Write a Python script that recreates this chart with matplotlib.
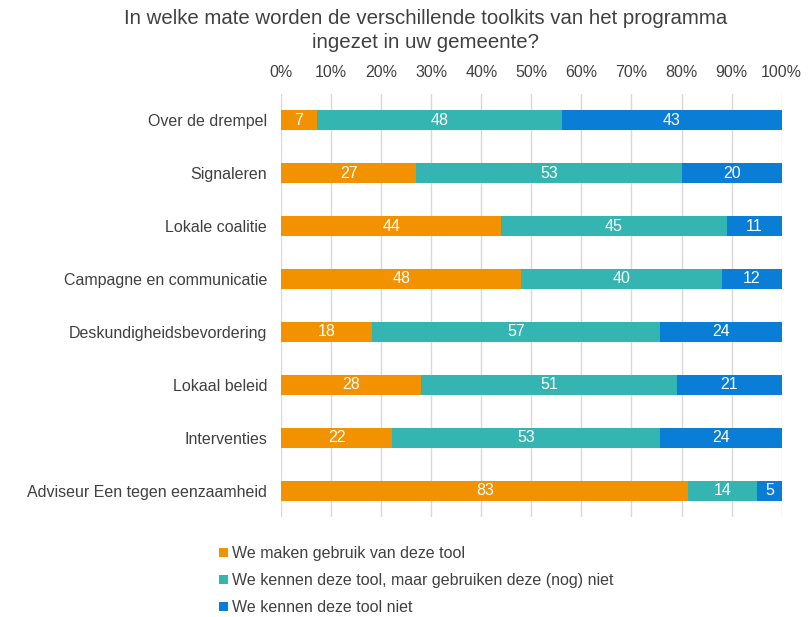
import matplotlib.pyplot as plt
import numpy as np

plt.rcParams['font.family'] = ['Liberation Sans', 'DejaVu Sans']

categories = ['Over de drempel', 'Signaleren', 'Lokale coalitie',
              'Campagne en communicatie', 'Deskundigheidsbevordering',
              'Lokaal beleid', 'Interventies', 'Adviseur Een tegen eenzaamheid']
gebruik = [7, 27, 44, 48, 18, 28, 22, 83]
kennen_niet_gebruik = [48, 53, 45, 40, 57, 51, 53, 14]
kennen_niet = [43, 20, 11, 12, 24, 21, 24, 5]

series = [
    ('We maken gebruik van deze tool', gebruik, '#F39200'),
    ('We kennen deze tool, maar gebruiken deze (nog) niet', kennen_niet_gebruik, '#35B5B1'),
    ('We kennen deze tool niet', kennen_niet, '#0A7DD7'),
]

totals = np.array(gebruik) + np.array(kennen_niet_gebruik) + np.array(kennen_niet)

fig = plt.figure(figsize=(8.1, 6.17), dpi=100)
ax = fig.add_axes([0.347, 0.162, 0.618, 0.686])

y = np.arange(len(categories))
left = np.zeros(len(categories))
for name, vals, color in series:
    share = np.array(vals) / totals * 100
    bars = ax.barh(y, share, left=left, height=0.38, color=color, label=name, zorder=3)
    for b, v in zip(bars, vals):
        ax.text(b.get_x() + b.get_width() / 2, b.get_y() + b.get_height() / 2, str(v),
                ha='center', va='center', color='white', fontsize=11.5, zorder=4)
    left += share

ax.set_xlim(0, 100)
ax.set_ylim(7.5, -0.5)
ax.set_yticks(y)
ax.set_yticklabels(categories)
ax.set_xticks(np.arange(0, 101, 10))
ax.set_xticklabels([f'{t}%' for t in range(0, 101, 10)])
ax.xaxis.tick_top()
ax.tick_params(axis='both', length=0, labelsize=11.5, colors='#404040')
ax.tick_params(axis='x', pad=10)
ax.tick_params(axis='y', pad=10)
ax.grid(axis='x', color='#D9D9D9', linewidth=1, zorder=0)
for s in ax.spines.values():
    s.set_visible(False)

fig.suptitle('In welke mate worden de verschillende toolkits van het programma\ningezet in uw gemeente?',
             x=0.525, y=0.985, fontsize=14.7, color='#404040', linespacing=1.3)

fig.legend(loc='upper left', bbox_to_anchor=(0.253, 0.138), frameon=False, fontsize=11.5,
           handlelength=0.55, handleheight=0.55, handletextpad=0.25, labelspacing=0.75,
           labelcolor='#404040')

fig.savefig('out.png', dpi=100)
